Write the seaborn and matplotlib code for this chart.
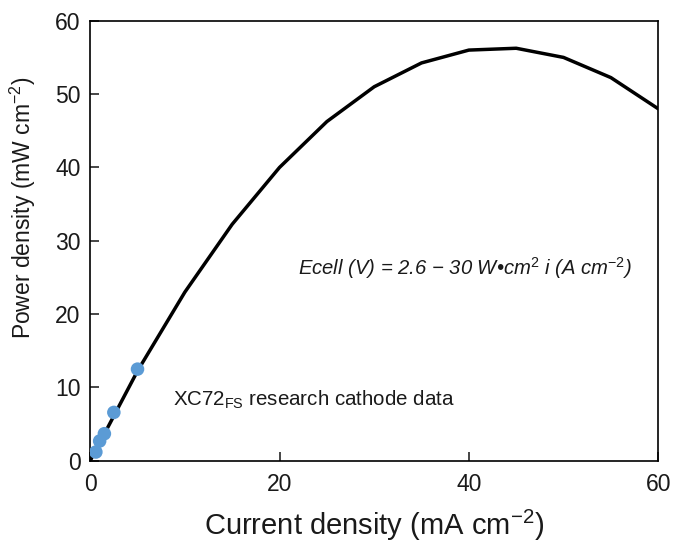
import numpy as np
import pandas as pd
import seaborn as sns
import matplotlib
matplotlib.use('Agg')
import matplotlib.pyplot as plt

# model curve (mA cm-2 vs mW cm-2)
current_model = [0, 5, 10, 15, 20, 25, 30, 35, 40, 45, 50, 55, 60]
power_model = [0, 12.25, 23, 32.25, 40, 46.25, 51, 54.25, 56, 56.25, 55, 52.25, 48]

# XC72 research cathode points
current_data = [0.6, 1.0, 1.5, 2.5, 5.0]
power_data = [1.2, 2.7, 3.7, 6.6, 12.5]

sns.set_style('ticks')
plt.rcParams['font.family'] = ['Liberation Sans', 'DejaVu Sans']
plt.rcParams['mathtext.fontset'] = 'custom'
plt.rcParams['mathtext.rm'] = 'Liberation Sans'
plt.rcParams['mathtext.it'] = 'Liberation Sans:italic'
plt.rcParams['text.color'] = '#1a1a1a'
plt.rcParams['axes.labelcolor'] = '#1a1a1a'
plt.rcParams['xtick.labelcolor'] = '#1a1a1a'
plt.rcParams['ytick.labelcolor'] = '#1a1a1a'

model = pd.DataFrame({'i': current_model, 'p': power_model})
data = pd.DataFrame({'i': current_data, 'p': power_data})

fig = plt.figure(figsize=(6.73, 5.46), dpi=100)
ax = fig.add_axes([0.134, 0.156, 0.844, 0.806])

sns.lineplot(data=model, x='i', y='p', color='black', linewidth=2.5, ax=ax, zorder=2)
sns.scatterplot(data=data, x='i', y='p', color='#5b9bd5', s=95, edgecolor='none', ax=ax, zorder=3)

ax.set_xlim(0, 60)
ax.set_ylim(0, 60)
ax.set_xticks([0, 20, 40, 60])
ax.set_yticks([0, 10, 20, 30, 40, 50, 60])
ax.tick_params(direction='in', length=6.5, width=1.2, labelsize=16.5, top=False, right=False)
ax.tick_params(axis='x', pad=9)
ax.tick_params(axis='y', pad=7)
for s in ax.spines.values():
    s.set_linewidth(1.2)
    s.set_color('black')

ax.set_xlabel('Current density (mA cm$^{-2}$)', fontsize=21, labelpad=8)
ax.set_ylabel('Power density (mW cm$^{-2}$)', fontsize=16.5)
ax.yaxis.set_label_coords(-0.092, 0.574)

ax.text(22, 26.3, 'Ecell (V) = 2.6 \u2212 30 W\u2022cm$\\mathit{^{2}}$ i (A cm$\\mathit{^{-2}}$)',
        fontsize=14.6, va='center', ha='left', style='italic')
ax.text(8.7, 8.3, 'XC72$_{\\mathregular{FS}}$ research cathode data', fontsize=14.8, va='center', ha='left')

fig.savefig('out.png', dpi=100)
